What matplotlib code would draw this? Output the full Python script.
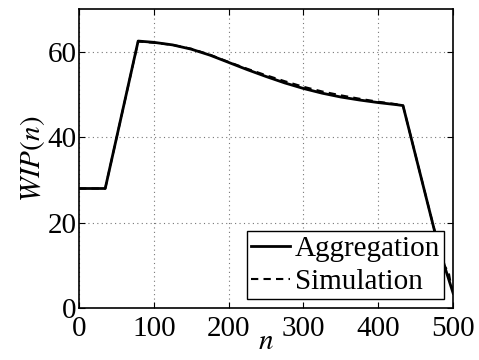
import matplotlib
matplotlib.use("Agg")
import matplotlib.pyplot as plt

n_vals = [0, 35, 79, 100, 125, 150, 175, 200, 225, 250, 275, 300, 325, 350, 375, 400, 425, 433, 476, 490, 500]
aggregation = [28, 28, 62.5, 62.2, 61.6, 60.6, 59.2, 57.5, 55.8, 54.2, 52.7, 51.4, 50.3, 49.4, 48.7, 48.1, 47.6, 47.4, 17.5, 9, 3.5]
sim_n = [0, 35, 79, 100, 125, 150, 175, 200, 225, 250, 275, 300, 325, 350, 375, 400, 425, 433, 476, 488, 494, 497, 500]
simulation = [28, 28, 62.4, 62.1, 61.6, 60.7, 59.3, 57.6, 56.0, 54.5, 53.1, 51.8, 50.7, 49.8, 49.0, 48.3, 47.7, 47.4, 17.6, 10, 8.5, 5.5, 4.2]

plt.rcParams['font.family'] = ['Liberation Serif', 'DejaVu Serif']
plt.rcParams['mathtext.fontset'] = 'stix'

fig = plt.figure(figsize=(4.79, 3.6), dpi=100)
ax = fig.add_axes([0.165, 0.144, 0.781, 0.831])
ax.plot(n_vals, aggregation, color='black', lw=2, ls='-', label='Aggregation')
ax.plot(sim_n, simulation, color='black', lw=1.5, ls=(0, (3.5, 2.5)), label='Simulation')
ax.set_xlim(0, 500)
ax.set_ylim(0, 70)
ax.set_xticks([0, 100, 200, 300, 400, 500])
ax.set_yticks([0, 20, 40, 60])
ax.tick_params(direction='in', labelsize=21, length=4, top=True, right=True, color='black')
ax.tick_params(axis='x', pad=6)
ax.tick_params(axis='y', pad=2)
ax.grid(True, ls=(0, (1, 3)), color='#777777', lw=0.8)
for s in ax.spines.values():
    s.set_linewidth(1.2)
ax.set_xlabel('$n$', fontsize=21, labelpad=-10)
ax.set_ylabel('$WIP(n)$', fontsize=21, labelpad=0)
leg = ax.legend(loc='lower right', fontsize=21, fancybox=False, edgecolor='black',
                framealpha=1, borderpad=0.15, labelspacing=0.22, handlelength=1.35,
                handletextpad=0.15, borderaxespad=0.3)
leg.get_frame().set_linewidth(1.0)
fig.savefig('out.png', dpi=100)
